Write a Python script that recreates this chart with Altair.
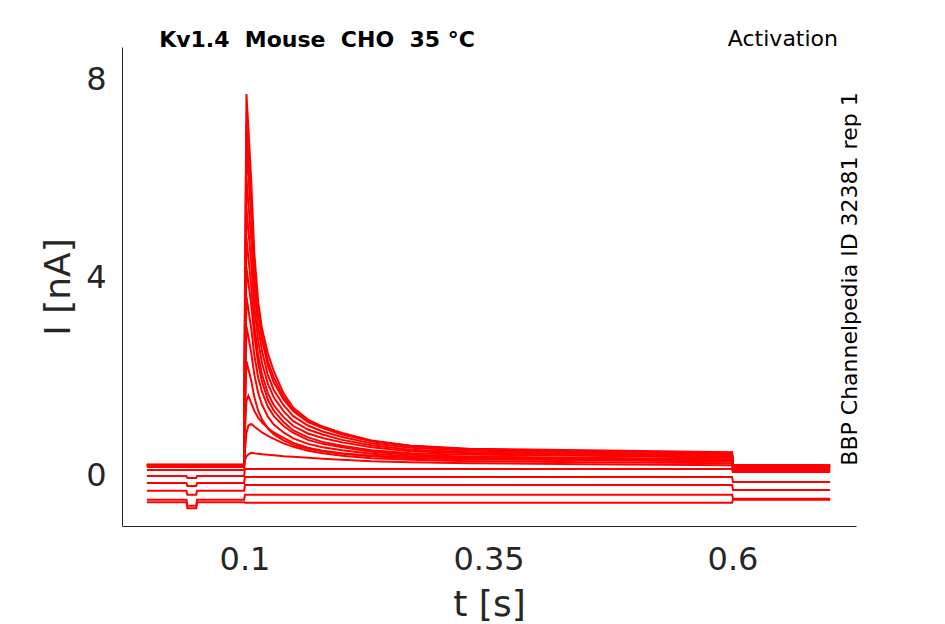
import altair as alt
import pandas as pd

# time grids (s)
TIME_STEP = [0, 0.0995, 0.1005, 0.102, 0.104, 0.107, 0.110, 0.114, 0.118, 0.124, 0.130,
             0.140, 0.150, 0.165, 0.18, 0.20, 0.23, 0.27, 0.33, 0.45, 0.5995, 0.6005, 0.7]
TIME_FLAT = [0, 0.0405, 0.0415, 0.0505, 0.0515, 0.0995, 0.1005, 0.5995, 0.6005, 0.7]

# non-inactivating traces (nA) on TIME_FLAT
F1 = [-0.55, -0.55, -0.67, -0.67, -0.55, -0.55, -0.56, -0.56, -0.50, -0.50]
F2 = [-0.50, -0.50, -0.62, -0.62, -0.50, -0.50, -0.40, -0.40, -0.48, -0.48]
F3 = [-0.32, -0.32, -0.40, -0.40, -0.32, -0.32, -0.20, -0.20, -0.30, -0.30]
F4 = [-0.16, -0.16, -0.22, -0.22, -0.16, -0.16, -0.04, -0.04, -0.14, -0.14]
F5 = [-0.02, -0.02, -0.06, -0.06, -0.02, -0.02, 0.12, 0.12, 0.06, 0.06]

# activating traces (nA) on TIME_STEP
A1 = [0.10, 0.10, 0.30, 0.38, 0.42, 0.45, 0.44, 0.43, 0.42, 0.41, 0.40, 0.38, 0.37, 0.35, 0.33, 0.31, 0.28, 0.26, 0.24, 0.22, 0.20, 0.08, 0.08]
A2 = [0.16, 0.16, 0.50, 0.85, 1.00, 1.03, 0.98, 0.92, 0.86, 0.79, 0.73, 0.64, 0.57, 0.49, 0.44, 0.39, 0.34, 0.31, 0.28, 0.26, 0.24, 0.10, 0.10]
A3 = [0.20, 0.20, 0.90, 1.50, 1.60, 1.45, 1.30, 1.16, 1.06, 0.95, 0.86, 0.75, 0.65, 0.55, 0.49, 0.44, 0.39, 0.35, 0.32, 0.30, 0.28, 0.12, 0.12]
A4 = [0.20, 0.20, 1.20, 2.30, 2.14, 1.90, 1.58, 1.30, 1.12, 0.94, 0.82, 0.70, 0.61, 0.53, 0.48, 0.43, 0.38, 0.34, 0.32, 0.31, 0.28, 0.14, 0.14]
A5 = [0.19, 0.19, 1.50, 3.00, 2.79, 2.46, 2.04, 1.66, 1.42, 1.18, 1.02, 0.86, 0.74, 0.63, 0.56, 0.50, 0.43, 0.38, 0.35, 0.33, 0.30, 0.15, 0.15]
A6 = [0.21, 0.21, 1.80, 3.60, 3.34, 2.95, 2.43, 1.97, 1.68, 1.38, 1.19, 0.99, 0.85, 0.71, 0.63, 0.56, 0.47, 0.41, 0.37, 0.35, 0.32, 0.16, 0.16]
A7 = [0.20, 0.20, 2.10, 4.20, 3.89, 3.43, 2.82, 2.25, 1.88, 1.52, 1.30, 1.07, 0.90, 0.76, 0.67, 0.59, 0.50, 0.44, 0.41, 0.39, 0.35, 0.17, 0.17]
A8 = [0.19, 0.19, 2.40, 4.80, 4.40, 3.79, 3.04, 2.42, 2.03, 1.65, 1.41, 1.17, 0.99, 0.84, 0.75, 0.66, 0.56, 0.48, 0.44, 0.41, 0.38, 0.18, 0.18]
A9 = [0.21, 0.21, 2.70, 5.40, 4.95, 4.25, 3.41, 2.71, 2.26, 1.84, 1.57, 1.29, 1.09, 0.92, 0.82, 0.71, 0.60, 0.51, 0.46, 0.43, 0.40, 0.18, 0.18]
A10 = [0.20, 0.20, 3.00, 6.00, 5.50, 4.72, 3.78, 3.00, 2.50, 2.02, 1.72, 1.41, 1.19, 1.00, 0.88, 0.77, 0.64, 0.55, 0.49, 0.46, 0.42, 0.19, 0.19]
A11 = [0.19, 0.19, 3.30, 6.60, 6.05, 5.19, 4.14, 3.28, 2.73, 2.21, 1.87, 1.53, 1.29, 1.07, 0.95, 0.82, 0.68, 0.58, 0.52, 0.48, 0.45, 0.20, 0.20]
A12 = [0.21, 0.21, 3.55, 7.10, 6.45, 5.45, 4.25, 3.35, 2.80, 2.30, 1.97, 1.58, 1.31, 1.09, 0.96, 0.83, 0.69, 0.59, 0.53, 0.50, 0.46, 0.20, 0.20]
A13 = [0.20, 0.20, 3.90, 7.70, 7.00, 5.90, 4.50, 3.50, 2.95, 2.45, 2.10, 1.65, 1.36, 1.12, 0.98, 0.85, 0.70, 0.59, 0.52, 0.47, 0.44, 0.20, 0.20]

X_TICKS = [0.1, 0.35, 0.6]
Y_TICKS = [0, 4, 8]
NB = "\u00a0"
TITLE_LEFT = f"Kv1.4 {NB}Mouse {NB}CHO {NB}35 °C"
TITLE_RIGHT = "Activation"
SIDE_TEXT = "BBP Channelpedia ID 32381 rep 1"

rows = []
for name, vals in [("F1", F1), ("F2", F2), ("F3", F3), ("F4", F4), ("F5", F5)]:
    for t, v in zip(TIME_FLAT, vals):
        rows.append({"trace": name, "t": t, "I": v})
for name, vals in [("A1", A1), ("A2", A2), ("A3", A3), ("A4", A4), ("A5", A5), ("A6", A6),
                   ("A7", A7), ("A8", A8), ("A9", A9), ("A10", A10), ("A11", A11),
                   ("A12", A12), ("A13", A13)]:
    for t, v in zip(TIME_STEP, vals):
        rows.append({"trace": name, "t": t, "I": v})
df = pd.DataFrame(rows)

FONT = "DejaVu Sans"
GRAY = "#262626"

lines = alt.Chart(df).mark_line(color="#ff0000", strokeWidth=2, clip=True).encode(
    x=alt.X("t:Q", scale=alt.Scale(domain=[-0.0255, 0.7265], nice=False, zero=False),
            axis=alt.Axis(values=X_TICKS, title="t [s]", labelExpr="format(datum.value, '~g')",
                          grid=False, tickSize=0, labelPadding=18, titlePadding=12,
                          labelFontSize=32, titleFontSize=36, labelFont=FONT, titleFont=FONT,
                          labelColor=GRAY, titleColor=GRAY, domainColor=GRAY,
                          titleFontWeight="normal")),
    y=alt.Y("I:Q", scale=alt.Scale(domain=[-1.03, 8.65], nice=False, zero=False),
            axis=alt.Axis(values=Y_TICKS, title="I [nA]", grid=False, tickSize=0,
                          labelPadding=16, titlePadding=8,
                          labelFontSize=32, titleFontSize=36, labelFont=FONT, titleFont=FONT,
                          labelColor=GRAY, titleColor=GRAY, domainColor=GRAY,
                          titleFontWeight="normal")),
    detail="trace:N",
)

one = alt.Data(values=[{"a": 1}])
t_left = alt.Chart(one).mark_text(text=TITLE_LEFT, font=FONT, fontSize=22, fontWeight="bold",
                                  align="center", baseline="alphabetic", color="#000000").encode(
    x=alt.value(195), y=alt.value(0))
t_right = alt.Chart(one).mark_text(text=TITLE_RIGHT, font=FONT, fontSize=22,
                                   align="right", baseline="alphabetic", color="#000000").encode(
    x=alt.value(716), y=alt.value(-1))
t_side = alt.Chart(one).mark_text(text=SIDE_TEXT, font=FONT, fontSize=22, angle=270,
                                  align="center", baseline="middle", color="#000000").encode(
    x=alt.value(728), y=alt.value(232))

chart = alt.layer(lines, t_left, t_right, t_side).properties(
    width=734, height=479,
    background="white",
    autosize=alt.AutoSizeParams(type="none"),
    padding={"left": 114, "top": 39, "right": 80, "bottom": 97},
).configure_view(stroke=None)

chart.save("out.html", embed_options={"renderer": "svg", "actions": False})
